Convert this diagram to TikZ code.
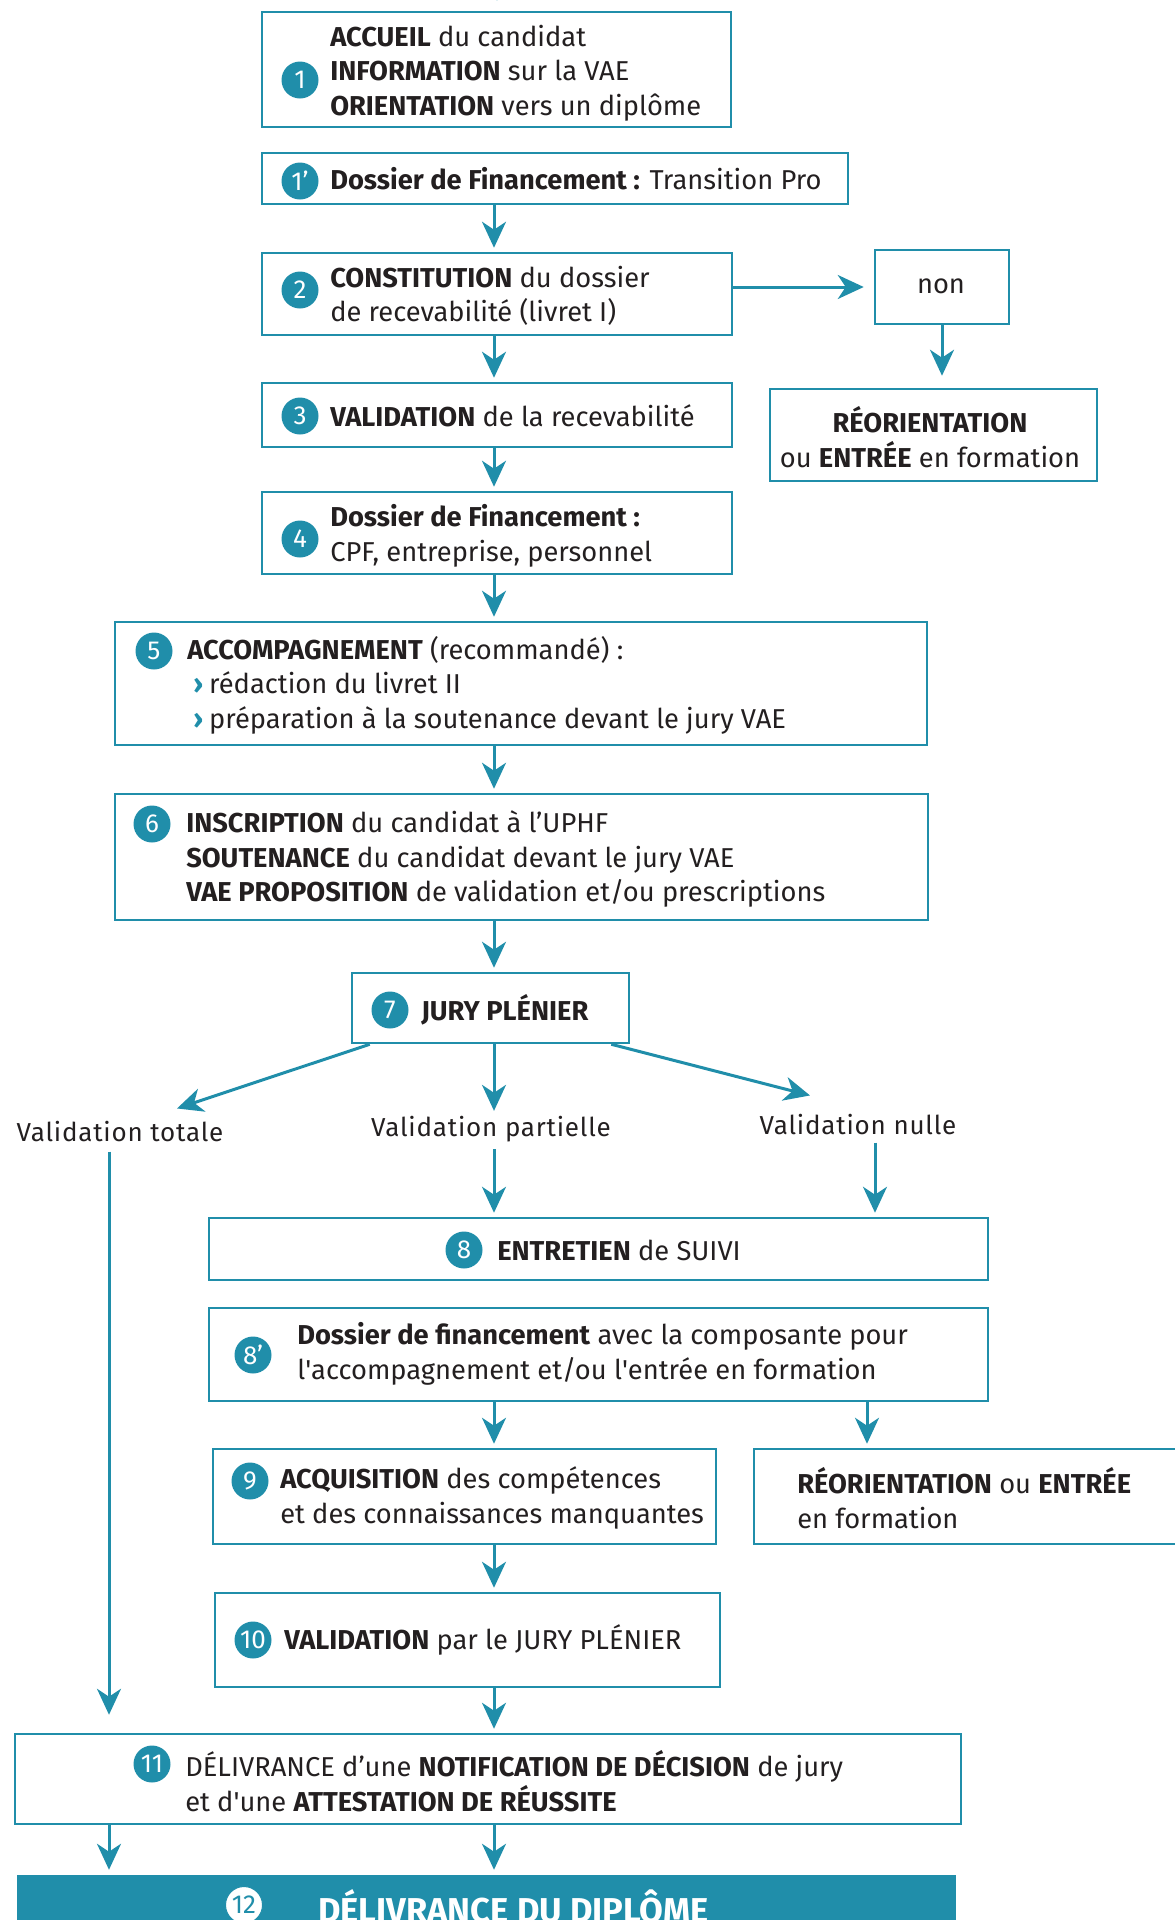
\documentclass[tikz,border=0pt]{standalone}
\usepackage{fontspec}
\setmainfont{Fira Sans}
\usetikzlibrary{arrows.meta,calc}
\definecolor{vaeblue}{RGB}{32,142,170}
\definecolor{vaeink}{RGB}{35,31,32}
\tikzset{every picture/.style={line width=2.5pt}}
\tikzset{
  stepbox/.style={draw=vaeblue, line width=2.5pt, rectangle, inner sep=0pt},
  badge/.style={circle, fill=vaeblue, text=white, inner sep=0pt, minimum size=37pt, font=\fontsize{26}{26}\selectfont},
  txt/.style={anchor=west, align=left, inner sep=0pt, text=vaeink, font=\fontsize{27.3}{34.5}\selectfont},
  label/.style={txt, anchor=center, font=\fontsize{26}{26}\selectfont\addfontfeature{LetterSpace=3}},
  arr/.style={draw=vaeblue, line width=3pt, -{Stealth[length=26pt,width=24pt,inset=8pt]}, shorten >=4pt},
}
\newcommand{\puce}{\hspace*{6pt}{\color{vaeblue}\textbf{›}}\hspace{6pt}}

\begin{document}
\begin{tikzpicture}[x=1pt,y=1pt,yscale=-1,xscale=1]
	\useasboundingbox (0,0) rectangle (1175,1920);

	%Shape: Rectangle [steps]
	\node[stepbox, minimum width=469pt, minimum height=115pt] (acc) at (496.5,69.5) {};
	\node[stepbox, minimum width=586pt, minimum height=51pt] (fin1) at (555,178.5) {};
	\node[stepbox, minimum width=470pt, minimum height=82pt] (cons) at (497,294) {};
	\node[stepbox, minimum width=134pt, minimum height=74pt] (non) at (942,287) {};
	\node[stepbox, minimum width=327pt, minimum height=92pt] (reo1) at (933.5,435) {};
	\node[stepbox, minimum width=470pt, minimum height=64pt] (valrec) at (497,415) {};
	\node[stepbox, minimum width=470pt, minimum height=82pt] (fin4) at (497,533) {};
	\node[stepbox, minimum width=812pt, minimum height=123pt] (accomp) at (521,683.5) {};
	\node[stepbox, minimum width=813pt, minimum height=126pt] (inscr) at (521.5,857) {};
	\node[stepbox, minimum width=277pt, minimum height=70pt] (jury) at (490.5,1008) {};
	\node[stepbox, minimum width=779pt, minimum height=62pt] (suivi) at (598.5,1249) {};
	\node[stepbox, minimum width=779pt, minimum height=93pt] (finc) at (598.5,1354.5) {};
	\node[stepbox, minimum width=503pt, minimum height=95pt] (acq) at (464.5,1496.5) {};
	\node[stepbox, minimum width=431pt, minimum height=95pt] (reo2) at (969.5,1496.5) {};
	\node[stepbox, minimum width=505pt, minimum height=94pt] (valjury) at (467.5,1640) {};
	\node[stepbox, minimum width=946pt, minimum height=90pt] (deliv) at (488,1779) {};
	\node[rectangle, fill=vaeblue, inner sep=0pt, minimum width=939pt, minimum height=60pt] (dipl) at (486.5,1905) {};

	% Badges
	\node[badge] (n1) at (300,80) {1};
	\node[badge] (n1p) at (300,181) {1’};
	\node[badge] (n2) at (300,290) {2};
	\node[badge] (n3) at (300,416) {3};
	\node[badge] (n4) at (300,539) {4};
	\node[badge] (n5) at (154,651) {5};
	\node[badge] (n6) at (152,824) {6};
	\node[badge] (n7) at (390,1010) {7};
	\node[badge] (n8) at (464,1250) {8};
	\node[badge] (n8p) at (253,1355) {8’};
	\node[badge] (n9) at (250,1481) {9};
	\node[badge] (n10) at (253,1640) {10};
	\node[badge] (n11) at (152,1764) {11};
	\node[badge, fill=white, text=vaeblue, draw=vaeblue, line width=1pt] (n12) at (244,1905) {12};

	% Text Node
	\node[txt] (tacc) at (329,73) {\textbf{ACCUEIL} du candidat\\\textbf{INFORMATION} sur la VAE\\\textbf{ORIENTATION} vers un diplôme};
	% Text Node
	\node[txt] (tfin1) at (329,179) {\textbf{Dossier de Financement :} Transition Pro};
	% Text Node
	\node[txt] (tcons) at (329,296) {\textbf{CONSTITUTION} du dossier\\de recevabilité (livret I)};
	% Text Node
	\node[txt, anchor=center] (tnon) at (941,286) {non};
	% Text Node
	\node[txt, anchor=center, align=center] (treo1) at (930,437) {\textbf{RÉORIENTATION}\\ou \textbf{ENTRÉE} en formation};
	% Text Node
	\node[txt] (tvalrec) at (329,416) {\textbf{VALIDATION} de la recevabilité};
	% Text Node
	\node[txt] (tfin4) at (329,536) {\textbf{Dossier de Financement :}\\CPF, entreprise, personnel};
	% Text Node
	\node[txt] (taccomp) at (186,685) {\textbf{ACCOMPAGNEMENT} (recommandé) :\\\puce rédaction du livret II\\\puce préparation à la soutenance devant le jury VAE};
	% Text Node
	\node[txt] (tinscr) at (185,859) {\textbf{INSCRIPTION} du candidat à l’UPHF\\\textbf{SOUTENANCE} du candidat devant le jury VAE\\\textbf{VAE PROPOSITION} de validation et/ou prescriptions};
	% Text Node
	\node[txt] (tjury) at (420,1010) {\textbf{JURY PLÉNIER}};
	% Text Node
	\node[label] (vt) at (120,1132) {Validation totale};
	% Text Node
	\node[label] (vp) at (491,1129) {Validation partielle};
	% Text Node
	\node[label] (vn) at (858,1125) {Validation nulle};
	% Text Node
	\node[txt] (tsuivi) at (496,1250) {\textbf{ENTRETIEN} de SUIVI};
	% Text Node
	\node[txt] (tfinc) at (296,1354) {\textbf{Dossier de financement} avec la composante pour\\l\textquotesingle accompagnement et/ou l\textquotesingle entrée en formation};
	% Text Node
	\node[txt] (tacq) at (279,1498) {\textbf{ACQUISITION} des compétences\\et des connaissances manquantes};
	% Text Node
	\node[txt] (treo2) at (796,1498) {\textbf{RÉORIENTATION} ou \textbf{ENTRÉE}\\en formation};
	% Text Node
	\node[txt] (tvaljury) at (283,1640) {\textbf{VALIDATION} par le JURY PLÉNIER};
	% Text Node
	\node[txt] (tdeliv) at (184,1781) {DÉLIVRANCE d’une \textbf{NOTIFICATION DE DÉCISION} de jury\\et d\textquotesingle une \textbf{ATTESTATION DE RÉUSSITE}};
	% Text Node
	\node[txt, text=white, font=\fontsize{34.5}{34.5}\selectfont\bfseries] (tdipl) at (317,1906) {DÉLIVRANCE DU DIPLÔME};

	% Columns of the arrows
	\coordinate (col) at (494,0);
	\coordinate (lcol) at (109,0);
	\coordinate (ncol) at (875,0);
	\coordinate (rcol) at (867,0);
	\coordinate (topin) at (497,-40);

	%Straight Lines
	\draw[arr, shorten >=10pt] (topin) -- (acc.north -| topin);
	\draw[arr] (fin1.south -| col) -- (cons.north -| col);
	\draw[arr, shorten >=10pt] (cons.east |- non.west) -- (non.west);
	\draw[arr, shorten >=12pt] (non.south) -- (reo1.north -| non.south);
	\draw[arr] (cons.south -| col) -- (valrec.north -| col);
	\draw[arr] (valrec.south -| col) -- (fin4.north -| col);
	\draw[arr] (fin4.south -| col) -- (accomp.north -| col);
	\draw[arr] (accomp.south -| col) -- (inscr.north -| col);
	\draw[arr] (inscr.south -| col) -- (jury.north -| col);
	\draw[arr, shorten >=0pt] ($(jury.south west)+(19,0)$) -- ($(vt.north)+(57,-12)$);
	\draw[arr] (jury.south -| col) -- (vp.north -| col);
	\draw[arr, shorten >=0pt] ($(jury.south east)+(-19,0)$) -- ($(vn.north)+(-48,-18)$);
	\draw[arr, shorten <=6pt] (vp.south -| col) -- (suivi.north -| col);
	\draw[arr, shorten <=6pt] (vn.south -| ncol) -- (suivi.north -| ncol);
	\draw[arr] (finc.south -| col) -- (acq.north -| col);
	\draw[arr] (finc.south -| rcol) -- (reo2.north -| rcol);
	\draw[arr] (acq.south -| col) -- (valjury.north -| col);
	\draw[arr] (valjury.south -| col) -- (deliv.north -| col);
	\draw[arr, shorten <=8pt, shorten >=18pt] (vt.south -| lcol) -- (deliv.north -| lcol);
	\draw[arr] (deliv.south -| lcol) -- (dipl.north -| lcol);
	\draw[arr] (deliv.south -| col) -- (dipl.north -| col);

\end{tikzpicture}
\end{document}
